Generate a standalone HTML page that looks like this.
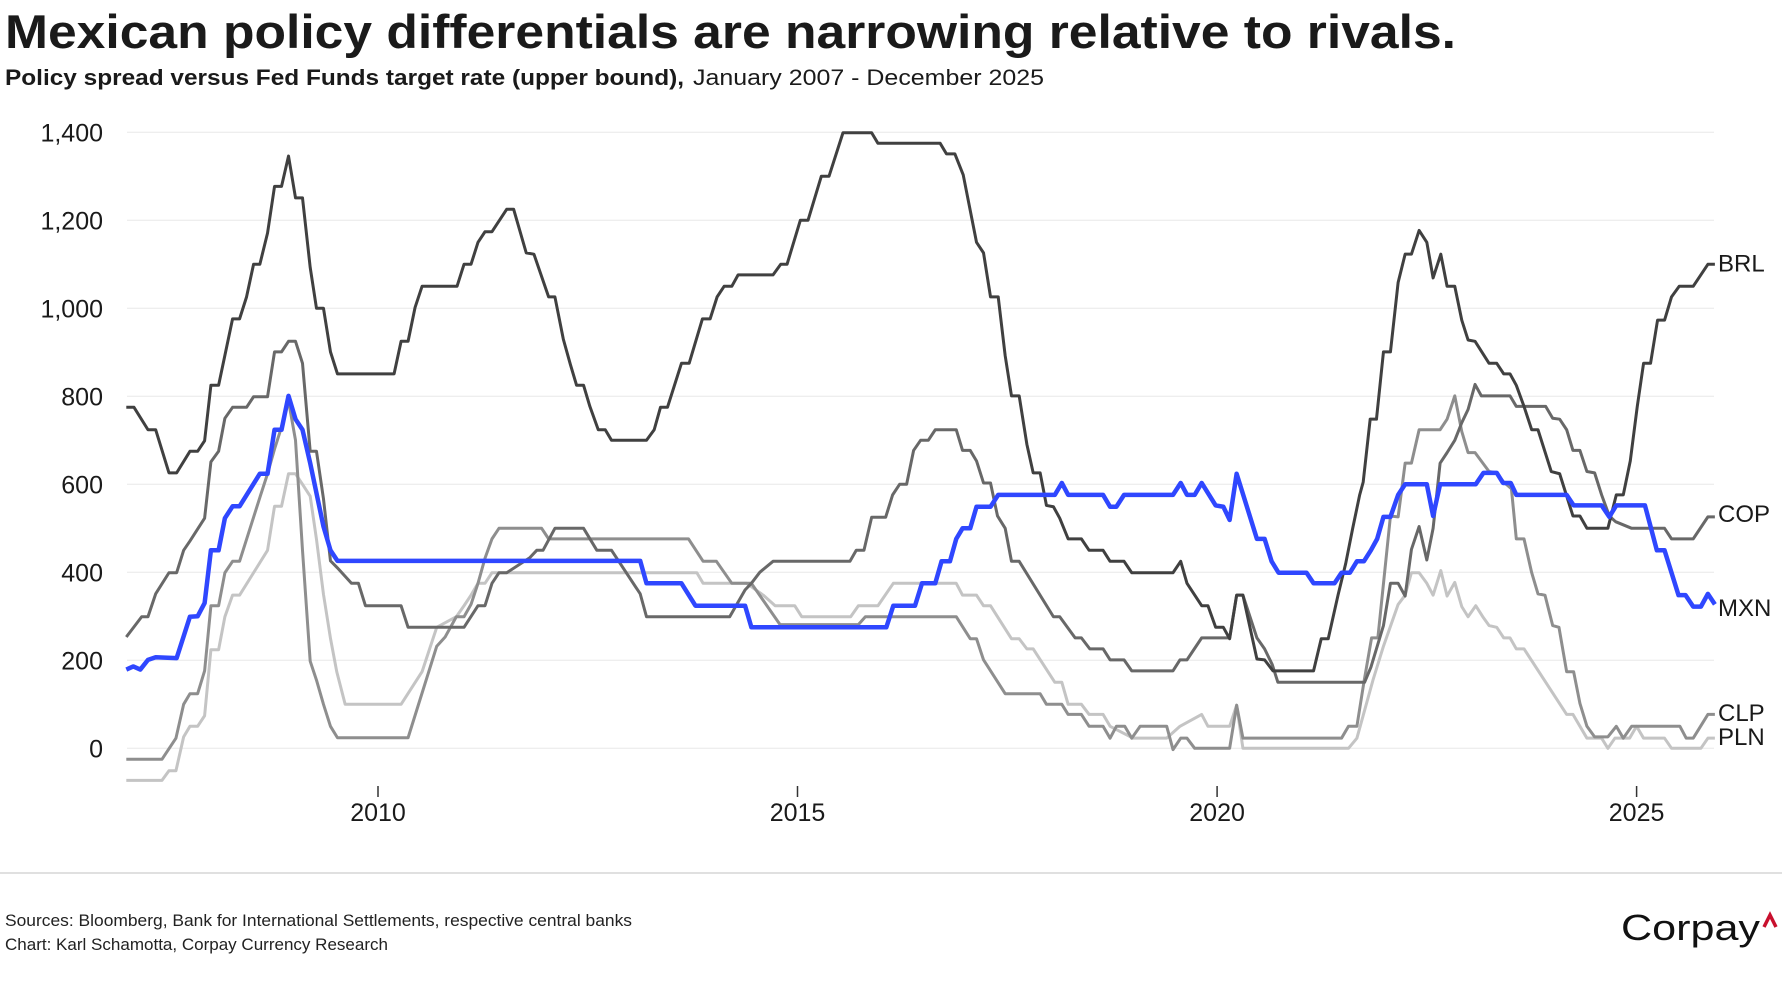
<!DOCTYPE html>
<html>
<head>
<meta charset="utf-8">
<style>
  html, body { margin: 0; padding: 0; background: #ffffff; }
  svg { display: block; }
  text { font-family: "Liberation Sans", "DejaVu Sans", sans-serif; }
</style>
</head>
<body>
<svg width="1786" height="1000" viewBox="0 0 1786 1000" xmlns="http://www.w3.org/2000/svg">
  <rect x="0" y="0" width="1786" height="1000" fill="#ffffff"/>

  <!-- Title -->
  <text x="5" y="48" font-size="47" font-weight="bold" fill="#1a1a1a" textLength="1451" lengthAdjust="spacingAndGlyphs">Mexican policy differentials are narrowing relative to rivals.</text>
  <!-- Subtitle -->
  <text x="5" y="85" font-size="22" font-weight="bold" fill="#1a1a1a" textLength="679" lengthAdjust="spacingAndGlyphs">Policy spread versus Fed Funds target rate (upper bound),</text>
  <text x="693" y="85" font-size="22" fill="#1a1a1a" textLength="351" lengthAdjust="spacingAndGlyphs">January 2007 - December 2025</text>

  <!-- Gridlines -->
  <g stroke="#e8e8e8" stroke-width="1">
    <line x1="127" y1="132.3" x2="1714" y2="132.3"/>
    <line x1="127" y1="220.3" x2="1714" y2="220.3"/>
    <line x1="127" y1="308.3" x2="1714" y2="308.3"/>
    <line x1="127" y1="396.3" x2="1714" y2="396.3"/>
    <line x1="127" y1="484.3" x2="1714" y2="484.3"/>
    <line x1="127" y1="572.3" x2="1714" y2="572.3"/>
    <line x1="127" y1="660.3" x2="1714" y2="660.3"/>
    <line x1="127" y1="748.3" x2="1714" y2="748.3"/>
  </g>

  <!-- Y labels -->
  <g font-size="25" fill="#1a1a1a" text-anchor="end">
    <text x="103" y="141.3">1,400</text>
    <text x="103" y="229.3">1,200</text>
    <text x="103" y="317.3">1,000</text>
    <text x="103" y="405.3">800</text>
    <text x="103" y="493.3">600</text>
    <text x="103" y="581.3">400</text>
    <text x="103" y="669.3">200</text>
    <text x="103" y="757.3">0</text>
  </g>

  <!-- X ticks -->
  <g stroke="#333" stroke-width="1.5">
    <line x1="378" y1="786" x2="378" y2="797"/>
    <line x1="797.5" y1="786" x2="797.5" y2="797"/>
    <line x1="1217.1" y1="786" x2="1217.1" y2="797"/>
    <line x1="1636.6" y1="786" x2="1636.6" y2="797"/>
  </g>
  <g font-size="25" fill="#1a1a1a" text-anchor="middle">
    <text x="378" y="821">2010</text>
    <text x="797.5" y="821">2015</text>
    <text x="1217.1" y="821">2020</text>
    <text x="1636.6" y="821">2025</text>
  </g>

  <!-- Series -->
  <g transform="matrix(6.992 0 0 -0.44 126.3 748.3)" fill="none" stroke-linejoin="round" stroke-linecap="butt">
    <!-- PLN (light) -->
    <polyline vector-effect="non-scaling-stroke" stroke="#c4c4c4" stroke-width="3" points="0,-73 5.1,-73 6.1,-51 7.1,-51 8.2,26 9.1,50 10.2,50 11.2,74 12.1,224 13.2,224 14.1,299 15.2,348 16.2,348 18.2,399 20.2,450 21.2,550 22.2,550 23.2,624 24.2,624 25.2,600 26.3,573 27.2,475 28.2,350 29.2,250 30.1,174 31.3,100 39.3,100 42.3,174 44.4,275 47.2,299 48.3,324 49.3,348 50.3,375 51.3,375 52.3,399 81.6,399 82.5,375 88.7,375 91.1,348 92.8,324 95.6,324 96.6,299 103.6,299 104.7,324 107.5,324 109.7,375 118.7,375 119.6,348 121.6,348 122.6,324 123.6,324 126.6,249 127.7,249 128.8,226 129.7,226 132.8,150 133.8,150 134.7,100 136.6,100 137.7,77 139.7,77 140.7,50 144,23 148.8,23 150.7,50 153.8,77 154.7,50 157.8,50 158.8,98 159.7,0 174.8,0 176,23 178.3,155 179.8,232 181.9,327 182.9,348 183.8,399 184.9,399 186,375 186.9,348 188,404 188.9,346 190,377 191,322 191.9,299 193,324 194,299 194.9,279 196,275 197,251 197.9,251 198.8,226 199.9,226 206,77 206.9,77 208.9,23 211,23 211.9,0 212.9,23 215,23 216,50 217,23 220,23 221,0 225.2,0 226.2,23 227.2,23"/>
    <!-- CLP (medium) -->
    <polyline vector-effect="non-scaling-stroke" stroke="#8e8e8e" stroke-width="3" points="0,-25 5.1,-25 7.1,23 8.2,100 9.1,124 10.2,124 11.2,176 12.1,324 13.2,324 14.1,399 15.2,425 16.2,425 17.2,475 18.2,525 19.2,575 20.2,624 21.2,680 22.2,730 23.2,790 24.2,700 25.2,450 26.3,198 27.2,155 28.2,100 29.2,50 30.2,24 40.3,24 44.4,232 45.6,253 47.2,299 48.3,299 49.3,327 50.3,375 51.3,432 52.3,476 53.3,500 59.4,500 60.4,476 80.4,476 82.5,425 84.4,425 86.6,375 89.4,375 93.5,281 104.7,281 105.7,299 118.7,299 120.7,249 121.6,249 122.6,201 125.7,124 130.7,124 131.6,100 133.8,100 134.7,77 136.6,77 137.7,50 139.7,50 140.7,23 141.6,50 142.8,50 143.8,23 145,50 148.8,50 149.7,-3 150.8,23 151.7,23 152.8,0 157.8,0 158.8,98 159.7,23 173.8,23 174.8,50 176,50 177,150 178.1,251 179,251 180.8,528 181.9,526 182.9,648 183.8,648 184.9,724 187.9,724 188.9,748 190,801 191,720 191.9,672 192.9,672 194.9,629 196,626 197,605 198.1,590 198.8,476 199.9,476 201,399 201.9,351 202.9,348 204,279 204.9,275 206,174 207,174 207.9,102 208.9,50 210,26 211.9,26 213.1,50 214.1,23 215.3,50 222.2,50 223.1,23 224.1,23 226.2,77 227.2,77"/>
    <!-- COP (dark gray) -->
    <polyline vector-effect="non-scaling-stroke" stroke="#686868" stroke-width="3" points="0,253 2.2,299 3.1,299 4.2,351 6.1,399 7.2,399 8.2,450 9.1,471 11.2,523 12.1,651 13.2,675 14.1,750 15.2,775 17.2,775 18.2,799 20.2,799 21.2,901 22.2,901 23.2,925 24.2,925 25.2,875 26.3,675 27.2,675 28.2,567 29.2,426 30.2,410 32.2,375 33.2,375 34.2,324 39.3,324 40.3,275 48.3,275 50.3,324 51.3,324 52.3,375 53.3,399 54.4,399 57.7,433 58.7,450 59.6,450 61.3,500 65.4,500 67.3,450 69.4,450 73.5,351 74.4,299 86.3,299 88.5,360 89.4,375 90.6,400 92.5,425 103.5,425 104.4,450 105.5,450 106.6,525 108.6,525 109.6,576 110.6,600 111.6,600 112.6,677 113.6,700 114.7,700 115.7,724 118.7,724 119.6,677 120.7,677 121.6,653 122.6,603 123.6,603 124.6,528 125.7,500 126.6,425 127.7,425 132.6,299 133.5,299 135.7,251 136.6,251 137.8,226 139.7,226 140.7,201 142.7,201 143.8,176 149.7,176 150.7,201 151.7,201 153.8,251 157.8,251 158.8,348 159.7,348 161.7,251 162.8,226 163.9,190 164.7,150 177.1,150 178,184 179.8,279 180.8,375 181.9,375 182.9,346 183.8,452 184.9,504 186,428 186.9,500 187.9,648 188.9,672 190,700 191,740 191.9,770 192.9,827 193.8,801 197.9,801 198.8,777 203,777 204,750 205,748 206,724 206.9,677 207.9,677 208.9,629 210,626 211,576 212.1,528 213,515 215.3,500 220,500 221,476 224.1,476 226.2,526 227.2,526"/>
    <!-- BRL (darkest) -->
    <polyline vector-effect="non-scaling-stroke" stroke="#404040" stroke-width="3" points="0,775 1.1,775 3.1,724 4.2,724 6.1,626 7.2,626 9.1,675 10.2,675 11.2,699 12.1,825 13.2,825 15.2,976 16.2,976 17.2,1026 18.2,1100 19.1,1100 20.2,1171 21.2,1277 22.2,1277 23.2,1346 24.2,1251 25.2,1251 26.3,1093 27.2,1000 28.2,1000 29.2,901 30.2,851 38.3,851 39.3,925 40.3,925 41.3,1002 42.3,1050 47.3,1050 48.3,1100 49.3,1100 50.3,1150 51.3,1174 52.3,1174 54.4,1225 55.4,1225 57.2,1126 58.3,1123 60.4,1026 61.3,1026 62.5,930 63.5,873 64.4,825 65.4,825 66.3,777 67.5,724 68.5,724 69.4,700 74.4,700 75.5,724 76.4,775 77.4,775 79.4,875 80.5,875 82.4,976 83.5,976 84.5,1026 85.5,1050 86.6,1050 87.5,1076 92.5,1076 93.6,1100 94.5,1100 96.4,1200 97.5,1200 99.4,1300 100.5,1300 102.5,1399 106.6,1399 107.5,1375 116.4,1375 117.3,1351 118.5,1351 119.7,1303 121.6,1150 122.6,1126 123.6,1026 124.7,1026 125.7,892 126.6,801 127.7,801 128.8,691 129.7,626 130.7,626 131.6,552 132.6,549 133.5,523 134.7,476 136.6,476 137.7,450 139.7,450 140.7,425 142.7,425 143.8,399 149.7,399 150.8,425 151.7,375 153.8,324 154.7,324 155.8,275 156.9,275 157.8,249 158.8,348 159.7,348 161.7,203 162.8,201 164,176 169.8,176 170.9,249 171.9,249 173.3,348 174.4,420 175.4,500 176.4,576 176.9,605 177.9,748 178.8,748 179.8,901 180.8,901 181.9,1059 182.9,1123 183.8,1123 184.9,1177 186,1150 186.9,1069 188,1123 188.9,1050 190,1050 191,973 191.9,928 192.9,925 194.9,875 196,875 197,851 197.9,851 198.8,825 199.9,777 201,724 201.9,724 203.8,629 205,624 206.9,528 207.9,528 208.9,500 211.9,500 213.1,576 214.1,576 215.1,653 216.1,777 217,875 218,875 219,973 220,973 221,1026 222.1,1050 224.1,1050 226.2,1100 227.2,1100"/>
    <!-- MXN (blue) -->
    <polyline vector-effect="non-scaling-stroke" stroke="#2f47ff" stroke-width="4.5" points="0,179 1,186 2,179 3.1,201 4.2,207 7.2,205 9.1,299 10.2,300 11.2,330 12.1,450 13.2,450 14.1,523 15.2,550 16.2,550 19.1,624 20.2,624 21.2,724 22.2,724 23.2,801 24.2,748 25.2,724 26.3,648 28.2,504 29.2,450 30.2,426 73.5,426 74.4,375 79.4,375 81.4,324 88.5,324 89.4,275 108.7,275 109.7,324 112.8,324 113.8,375 115.7,375 116.6,425 117.8,425 118.7,476 119.6,500 120.7,500 121.6,549 123.6,549 124.7,576 132.8,576 133.8,603 134.7,576 139.7,576 140.7,549 141.6,549 142.7,576 149.7,576 150.8,603 151.7,576 152.8,576 153.8,603 155.8,552 156.9,549 157.8,519 158.8,624 161.7,476 162.8,476 163.8,425 164.8,399 168.8,399 169.8,375 172.8,375 173.8,399 175,399 176,425 177,425 178,450 178.9,476 179.8,526 180.8,526 181.9,576 182.9,600 186,600 186.9,528 187.9,600 193,600 194.1,626 196,626 196.9,603 198,603 198.8,576 206,576 207,552 211,552 212.1,526 213.1,552 217.2,552 218.9,450 220,450 222,348 223,348 224.1,322 225.2,322 226.2,351 227.2,327"/>
  </g>

  <!-- Series labels -->
  <g font-size="24" fill="#1a1a1a">
    <text x="1718" y="271.5">BRL</text>
    <text x="1718" y="522">COP</text>
    <text x="1718" y="616">MXN</text>
    <text x="1718" y="721">CLP</text>
    <text x="1718" y="745">PLN</text>
  </g>

  <!-- Footer -->
  <line x1="0" y1="873" x2="1782" y2="873" stroke="#d6d6d6" stroke-width="1.5"/>
  <text x="5" y="926" font-size="17" fill="#222" textLength="627" lengthAdjust="spacingAndGlyphs">Sources: Bloomberg, Bank for International Settlements, respective central banks</text>
  <text x="5" y="950" font-size="17" fill="#222" textLength="383" lengthAdjust="spacingAndGlyphs">Chart: Karl Schamotta, Corpay Currency Research</text>

  <!-- Logo -->
  <text x="1621" y="940" font-size="36" fill="#111" textLength="139" lengthAdjust="spacingAndGlyphs">Corpay</text>
  <polyline points="1764,927 1770,915 1776,927" fill="none" stroke="#c8102e" stroke-width="3.5" stroke-linejoin="miter"/>
</svg>
</body>
</html>
